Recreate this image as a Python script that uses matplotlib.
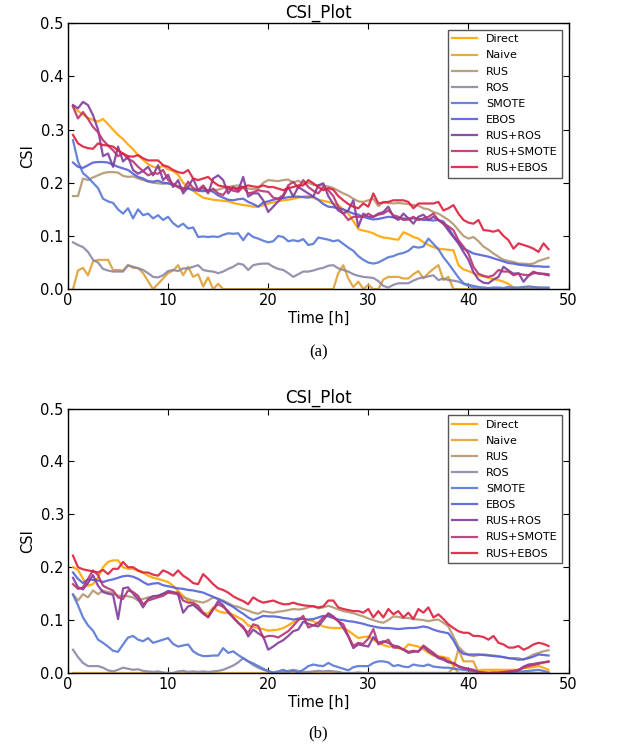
import numpy as np
import matplotlib
matplotlib.use('Agg')
import matplotlib.pyplot as plt
from matplotlib.ticker import FormatStrFormatter

hours = np.arange(1, 97) * 0.5

methods = ['Direct', 'Naive', 'RUS', 'ROS', 'SMOTE', 'EBOS',
           'RUS+ROS', 'RUS+SMOTE', 'RUS+EBOS']
colors = ['#FFA500', '#DFA034', '#B39670', '#8C87A5', '#5677D6',
          '#5460D8', '#7E3C9E', '#B83472', '#DE1E3C']

# ---------------- panel (a) ----------------
a_direct = [0.345,0.335,0.328,0.322,0.318,0.315,0.32,0.31,0.3,0.29,
            0.282,0.272,0.263,0.252,0.243,0.235,0.23,0.228,0.232,0.225,
            0.222,0.215,0.2,0.192,0.185,0.178,0.172,0.17,0.168,0.167,
            0.166,0.165,0.162,0.16,0.158,0.157,0.155,0.155,0.158,0.161,
            0.163,0.165,0.167,0.168,0.17,0.172,0.174,0.175,0.172,0.168,
            0.166,0.164,0.161,0.158,0.15,0.142,0.128,0.113,0.11,0.108,
            0.105,0.1,0.097,0.096,0.094,0.093,0.107,0.103,0.098,0.095,
            0.088,0.083,0.079,0.076,0.075,0.074,0.073,0.045,0.037,0.034,
            0.03,0.026,0.024,0.021,0.019,0.017,0.014,0.01,0.003,0.002,
            0.003,0.004,0.004,0.003,0.002,0.002]
a_naive = [0.0,0.035,0.04,0.026,0.052,0.055,0.055,0.055,0.036,0.036,
           0.035,0.045,0.04,0.04,0.03,0.015,0.0,0.01,0.02,0.03,
           0.035,0.045,0.026,0.042,0.023,0.028,0.005,0.022,0.0,0.01,
           0,0,0,0,0,0,0,0,0,0,
           0,0,0,0,0,0,0,0,0,0,
           0,0,0,0.03,0.045,0.02,0.004,0.014,0.0,0.008,
           0.0,0.0,0.018,0.023,0.023,0.023,0.02,0.02,0.028,0.034,
           0.02,0.03,0.038,0.045,0.017,0.023,0.0,0,0,0,
           0,0,0,0,0,0,0,0,0,0,
           0,0,0,0,0,0]
a_rus = [0.175,0.175,0.208,0.205,0.21,0.214,0.218,0.22,0.22,0.219,
         0.213,0.211,0.212,0.208,0.205,0.202,0.2,0.199,0.198,0.199,
         0.196,0.194,0.19,0.19,0.188,0.186,0.187,0.185,0.186,0.187,
         0.19,0.192,0.194,0.195,0.192,0.189,0.188,0.189,0.2,0.205,
         0.204,0.203,0.205,0.206,0.2,0.204,0.198,0.2,0.196,0.195,
         0.195,0.193,0.19,0.185,0.18,0.176,0.17,0.165,0.164,0.167,
         0.17,0.156,0.164,0.162,0.161,0.162,0.161,0.16,0.158,0.157,
         0.152,0.15,0.145,0.142,0.136,0.13,0.122,0.111,0.1,0.095,
         0.098,0.09,0.08,0.074,0.067,0.061,0.055,0.053,0.051,0.048,
         0.048,0.047,0.048,0.053,0.056,0.059]
a_ros = [0.088,0.083,0.079,0.07,0.055,0.05,0.038,0.035,0.033,0.033,
         0.033,0.045,0.042,0.039,0.036,0.03,0.023,0.022,0.026,0.034,
         0.036,0.034,0.039,0.039,0.042,0.045,0.036,0.034,0.033,0.03,
         0.033,0.038,0.042,0.048,0.046,0.036,0.045,0.047,0.048,0.048,
         0.042,0.038,0.036,0.03,0.023,0.028,0.033,0.033,0.035,0.038,
         0.04,0.044,0.045,0.039,0.036,0.033,0.028,0.025,0.023,0.022,
         0.021,0.015,0.006,0.003,0.008,0.011,0.011,0.011,0.016,0.02,
         0.022,0.024,0.026,0.017,0.02,0.017,0.016,0.014,0.01,0.006,
         0.003,0,0,0,0,0,0,0,0,0,
         0,0,0,0,0,0]
a_smote = [0.28,0.24,0.218,0.21,0.2,0.19,0.17,0.165,0.162,0.15,
           0.142,0.152,0.133,0.15,0.139,0.142,0.133,0.139,0.13,0.136,
           0.124,0.117,0.123,0.114,0.116,0.098,0.099,0.098,0.099,0.098,
           0.102,0.105,0.104,0.105,0.092,0.105,0.098,0.095,0.091,0.088,
           0.09,0.1,0.098,0.09,0.092,0.09,0.094,0.083,0.085,0.097,
           0.095,0.093,0.09,0.092,0.085,0.078,0.072,0.062,0.055,0.05,
           0.048,0.05,0.055,0.06,0.062,0.066,0.068,0.072,0.08,0.078,
           0.08,0.095,0.085,0.075,0.06,0.048,0.035,0.022,0.011,0.008,
           0.006,0.004,0.003,0.002,0.003,0.003,0.002,0.004,0.003,0.003,
           0.004,0.005,0.004,0.003,0.003,0.003]
a_ebos = [0.238,0.23,0.228,0.233,0.238,0.239,0.239,0.238,0.234,0.23,
          0.227,0.224,0.217,0.211,0.208,0.203,0.202,0.204,0.2,0.199,
          0.196,0.192,0.189,0.189,0.186,0.185,0.184,0.186,0.183,0.176,
          0.172,0.168,0.167,0.169,0.17,0.164,0.16,0.155,0.163,0.165,
          0.168,0.17,0.171,0.173,0.174,0.174,0.173,0.172,0.174,0.168,
          0.16,0.155,0.154,0.152,0.15,0.146,0.142,0.14,0.136,0.133,
          0.131,0.132,0.134,0.136,0.135,0.133,0.133,0.132,0.133,0.132,
          0.13,0.13,0.129,0.13,0.127,0.115,0.1,0.088,0.076,0.072,
          0.067,0.065,0.063,0.061,0.058,0.055,0.052,0.049,0.048,0.046,
          0.045,0.044,0.043,0.043,0.042,0.042]
a_rus_ros = [0.346,0.34,0.352,0.346,0.327,0.3,0.25,0.255,0.23,0.268,
             0.24,0.249,0.224,0.217,0.222,0.23,0.214,0.233,0.205,0.215,
             0.192,0.205,0.18,0.192,0.208,0.186,0.192,0.18,0.208,0.214,
             0.205,0.18,0.192,0.185,0.211,0.174,0.18,0.18,0.167,0.145,
             0.155,0.165,0.174,0.192,0.174,0.192,0.186,0.18,0.174,0.195,
             0.199,0.175,0.16,0.148,0.142,0.148,0.167,0.117,0.142,0.136,
             0.136,0.142,0.145,0.155,0.136,0.13,0.142,0.133,0.123,0.136,
             0.14,0.13,0.136,0.13,0.123,0.11,0.098,0.086,0.07,0.055,
             0.032,0.018,0.012,0.011,0.018,0.023,0.042,0.035,0.029,0.03,
             0.014,0.025,0.03,0.03,0.028,0.026]
a_rus_smote = [0.343,0.321,0.333,0.32,0.305,0.295,0.28,0.27,0.261,0.25,
               0.255,0.245,0.24,0.23,0.222,0.214,0.218,0.217,0.224,0.205,
               0.198,0.192,0.186,0.202,0.19,0.186,0.195,0.183,0.189,0.18,
               0.177,0.189,0.185,0.183,0.192,0.18,0.182,0.186,0.184,0.183,
               0.172,0.17,0.177,0.195,0.202,0.19,0.205,0.192,0.185,0.18,
               0.192,0.186,0.175,0.155,0.142,0.13,0.136,0.136,0.136,0.142,
               0.136,0.14,0.142,0.148,0.139,0.136,0.13,0.131,0.136,0.13,
               0.133,0.136,0.142,0.13,0.123,0.118,0.111,0.092,0.08,0.067,
               0.042,0.029,0.025,0.023,0.026,0.036,0.033,0.033,0.026,0.029,
               0.027,0.026,0.033,0.029,0.029,0.028]
a_rus_ebos = [0.29,0.274,0.268,0.265,0.264,0.274,0.271,0.27,0.268,0.261,
              0.255,0.25,0.249,0.252,0.246,0.242,0.242,0.242,0.233,0.23,
              0.224,0.22,0.218,0.224,0.208,0.205,0.208,0.211,0.202,0.195,
              0.193,0.192,0.189,0.19,0.192,0.195,0.193,0.192,0.195,0.192,
              0.192,0.189,0.186,0.19,0.192,0.195,0.195,0.205,0.199,0.192,
              0.186,0.19,0.187,0.175,0.167,0.16,0.155,0.152,0.161,0.155,
              0.18,0.161,0.163,0.164,0.167,0.167,0.167,0.164,0.152,0.161,
              0.161,0.161,0.161,0.164,0.148,0.152,0.158,0.142,0.13,0.125,
              0.123,0.13,0.111,0.11,0.108,0.111,0.1,0.092,0.076,0.086,
              0.083,0.08,0.076,0.07,0.086,0.075]

# ---------------- panel (b) ----------------
b_direct = [0.2,0.195,0.178,0.165,0.168,0.181,0.2,0.21,0.213,0.213,
            0.2,0.197,0.197,0.193,0.19,0.184,0.18,0.178,0.175,0.172,
            0.165,0.155,0.146,0.137,0.13,0.122,0.114,0.112,0.124,0.117,
            0.114,0.114,0.11,0.105,0.1,0.09,0.087,0.085,0.083,0.08,
            0.081,0.082,0.085,0.09,0.096,0.101,0.103,0.1,0.098,0.093,
            0.088,0.086,0.085,0.085,0.085,0.08,0.073,0.066,0.068,0.069,
            0.063,0.057,0.053,0.05,0.05,0.047,0.044,0.054,0.052,0.05,
            0.045,0.038,0.033,0.032,0.03,0.028,0.013,0.0,0.0,0.0,
            0.003,0.005,0.006,0.006,0.006,0.006,0.006,0.006,0.006,0.006,
            0.009,0.01,0.011,0.013,0.01,0.006]
b_naive = [0,0,0,0,0,0,0,0,0,0,
           0,0,0,0,0,0,0,0,0,0,
           0,0,0,0,0,0,0,0,0,0,
           0,0,0,0,0,0,0,0,0,0,
           0,0,0,0,0,0,0,0,0,0,
           0,0,0,0,0,0,0,0,0,0,
           0,0,0,0,0,0,0,0,0,0,
           0,0,0,0,0,0,0.01,0.045,0.022,0.022,
           0.022,0,0,0,0,0,0,0,0,0,
           0,0,0,0,0,0]
b_rus = [0.149,0.137,0.149,0.143,0.156,0.149,0.156,0.153,0.152,0.146,
         0.146,0.145,0.143,0.137,0.14,0.143,0.145,0.146,0.149,0.152,
         0.15,0.149,0.143,0.14,0.137,0.135,0.133,0.137,0.143,0.14,
         0.137,0.132,0.127,0.125,0.121,0.118,0.114,0.112,0.117,0.115,
         0.114,0.116,0.117,0.119,0.121,0.12,0.121,0.124,0.127,0.122,
         0.124,0.127,0.124,0.12,0.117,0.115,0.113,0.11,0.107,0.103,
         0.1,0.097,0.095,0.1,0.107,0.106,0.104,0.104,0.102,0.101,
         0.1,0.098,0.1,0.101,0.095,0.088,0.069,0.05,0.04,0.034,
         0.032,0.034,0.035,0.034,0.033,0.032,0.03,0.028,0.028,0.028,
         0.025,0.03,0.035,0.038,0.041,0.043]
b_ros = [0.044,0.03,0.019,0.013,0.013,0.013,0.01,0.005,0.003,0.006,
         0.01,0.008,0.006,0.007,0.004,0.003,0.002,0.003,0.001,0.0,
         0.0,0.003,0.004,0.002,0.003,0.002,0.003,0.002,0.003,0.004,
         0.006,0.01,0.014,0.02,0.028,0.022,0.015,0.01,0.006,0.003,
         0.0,0.0,0.002,0.004,0.006,0.004,0.002,0.002,0.003,0.004,
         0.003,0.004,0.003,0.002,0.0,0.0,0.0,0.001,0.0,0.0,
         0,0,0,0,0,0,0,0,0,0,
         0,0,0,0,0,0,0,0,0,0,
         0,0,0,0,0,0,0,0,0,0,
         0,0,0,0,0,0]
b_smote = [0.148,0.128,0.105,0.09,0.08,0.063,0.057,0.05,0.042,0.04,
           0.054,0.067,0.07,0.063,0.06,0.066,0.057,0.06,0.063,0.066,
           0.055,0.05,0.052,0.054,0.041,0.035,0.032,0.032,0.033,0.033,
           0.047,0.038,0.041,0.034,0.028,0.022,0.018,0.013,0.008,0.004,
           0.001,0.003,0.006,0.002,0.004,0.001,0.006,0.013,0.016,0.014,
           0.013,0.019,0.014,0.011,0.008,0.005,0.011,0.013,0.013,0.013,
           0.019,0.022,0.022,0.02,0.013,0.015,0.012,0.011,0.016,0.014,
           0.013,0.016,0.012,0.011,0.01,0.01,0.008,0.007,0.006,0.005,
           0.003,0.002,0.001,0.0,0.0,0.0,0.001,0.002,0.002,0.003,
           0.003,0.004,0.005,0.006,0.004,0.001]
b_ebos = [0.19,0.178,0.17,0.177,0.176,0.175,0.172,0.175,0.177,0.18,
          0.183,0.184,0.182,0.178,0.172,0.167,0.169,0.17,0.166,0.164,
          0.162,0.16,0.159,0.157,0.156,0.154,0.152,0.148,0.144,0.14,
          0.135,0.13,0.125,0.118,0.112,0.105,0.1,0.104,0.108,0.107,
          0.107,0.106,0.104,0.103,0.101,0.103,0.102,0.101,0.102,0.105,
          0.108,0.107,0.104,0.101,0.1,0.098,0.097,0.095,0.093,0.09,
          0.088,0.086,0.085,0.085,0.084,0.083,0.084,0.085,0.085,0.086,
          0.088,0.086,0.082,0.079,0.077,0.075,0.062,0.044,0.036,0.035,
          0.035,0.035,0.034,0.033,0.032,0.031,0.03,0.028,0.027,0.025,
          0.026,0.028,0.031,0.035,0.034,0.033]
b_rus_ros = [0.18,0.162,0.158,0.17,0.185,0.165,0.153,0.15,0.148,0.102,
             0.16,0.162,0.15,0.14,0.124,0.14,0.145,0.146,0.15,0.155,
             0.153,0.148,0.114,0.126,0.129,0.121,0.112,0.106,0.12,0.136,
             0.128,0.114,0.105,0.095,0.088,0.069,0.082,0.075,0.069,0.044,
             0.05,0.057,0.062,0.07,0.079,0.082,0.097,0.093,0.09,0.088,
             0.1,0.113,0.107,0.098,0.085,0.069,0.047,0.054,0.052,0.05,
             0.068,0.057,0.06,0.057,0.052,0.05,0.044,0.038,0.04,0.041,
             0.05,0.041,0.035,0.028,0.025,0.02,0.019,0.013,0.01,0.008,
             0.006,0.002,0.001,0.0,0.0,0.001,0.001,0.002,0.003,0.005,
             0.012,0.016,0.017,0.019,0.02,0.021]
b_rus_smote = [0.168,0.159,0.162,0.178,0.194,0.185,0.165,0.16,0.156,0.143,
               0.14,0.156,0.153,0.146,0.13,0.137,0.14,0.143,0.146,0.152,
               0.152,0.152,0.137,0.133,0.133,0.127,0.114,0.105,0.121,0.13,
               0.125,0.117,0.105,0.095,0.085,0.076,0.092,0.089,0.067,0.07,
               0.07,0.067,0.073,0.079,0.089,0.1,0.108,0.086,0.09,0.095,
               0.105,0.111,0.105,0.098,0.092,0.07,0.051,0.057,0.055,0.065,
               0.083,0.054,0.058,0.063,0.048,0.048,0.045,0.04,0.042,0.04,
               0.052,0.045,0.038,0.03,0.028,0.022,0.018,0.012,0.009,0.007,
               0.004,0.001,0.0,0.0,0.001,0.0,0.002,0.003,0.004,0.006,
               0.01,0.013,0.015,0.017,0.02,0.022]
b_rus_ebos = [0.222,0.2,0.196,0.194,0.192,0.19,0.195,0.187,0.197,0.197,
              0.21,0.2,0.2,0.194,0.19,0.19,0.186,0.184,0.194,0.19,
              0.184,0.194,0.184,0.178,0.17,0.168,0.187,0.178,0.168,0.16,
              0.157,0.152,0.145,0.14,0.136,0.13,0.143,0.137,0.133,0.135,
              0.137,0.133,0.13,0.13,0.133,0.13,0.128,0.127,0.126,0.124,
              0.126,0.137,0.137,0.124,0.121,0.119,0.117,0.117,0.114,0.121,
              0.105,0.117,0.105,0.121,0.111,0.117,0.105,0.114,0.102,0.121,
              0.114,0.124,0.105,0.111,0.102,0.092,0.085,0.079,0.076,0.076,
              0.07,0.07,0.068,0.063,0.07,0.057,0.054,0.048,0.048,0.051,
              0.044,0.048,0.054,0.057,0.055,0.051]

panel_a = [a_direct, a_naive, a_rus, a_ros, a_smote, a_ebos,
           a_rus_ros, a_rus_smote, a_rus_ebos]
panel_b = [b_direct, b_naive, b_rus, b_ros, b_smote, b_ebos,
           b_rus_ros, b_rus_smote, b_rus_ebos]

x_ticks = [0, 10, 20, 30, 40, 50]
y_ticks = [0.0, 0.1, 0.2, 0.3, 0.4, 0.5]

fig = plt.figure(figsize=(6.18, 7.49), dpi=100)
ax_a = fig.add_axes([0.110, 0.614, 0.810, 0.355])
ax_b = fig.add_axes([0.110, 0.1015, 0.810, 0.353])

for ax, series, tag in [(ax_a, panel_a, '(a)'), (ax_b, panel_b, '(b)')]:
    for name, vals, col in zip(methods, series, colors):
        ax.plot(hours, vals, color=col, lw=1.6, alpha=0.9, label=name)
    ax.set_xlim(0, 50)
    ax.set_ylim(0, 0.5)
    ax.set_xticks(x_ticks)
    ax.set_yticks(y_ticks)
    ax.yaxis.set_major_formatter(FormatStrFormatter('%.1f'))
    ax.tick_params(direction='in', top=True, right=True, length=4,
                   labelsize=10.5, pad=3)
    for s in ax.spines.values():
        s.set_linewidth(1.0)
    ax.set_title('CSI_Plot', fontsize=12, pad=4)
    ax.set_xlabel('Time [h]', fontsize=10.5, labelpad=2)
    ax.set_ylabel('CSI', fontsize=10.5, labelpad=4)
    leg = ax.legend(loc='upper right', fontsize=8, fancybox=False,
                    framealpha=1, edgecolor='#555555', handlelength=2.2,
                    labelspacing=0.55, borderaxespad=0.6)
    leg.get_frame().set_linewidth(1.0)

fig.text(0.515, 1 - 352 / 749, '(a)', ha='center', va='center',
         fontsize=12, family='Liberation Serif')
fig.text(0.515, 1 - 733 / 749, '(b)', ha='center', va='center',
         fontsize=12, family='Liberation Serif')

fig.savefig('out.png', dpi=100, facecolor='white')
